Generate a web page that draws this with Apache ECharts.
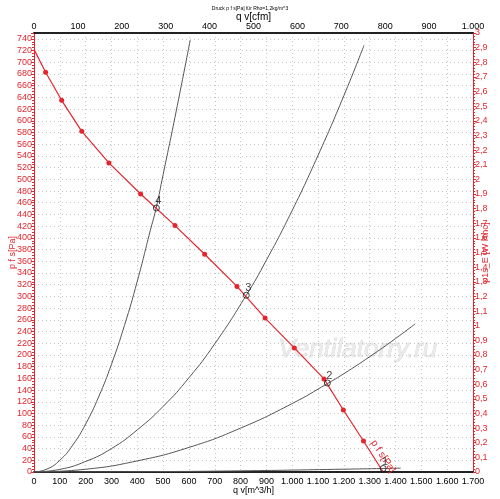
<!DOCTYPE html>
<html>
<head>
<meta charset="utf-8">
<title>Druck p f s</title>
<script src="https://cdn.jsdelivr.net/npm/echarts@6/dist/echarts.min.js"></script>
<style>
  html, body { margin: 0; padding: 0; background: #fff; }
  #main { width: 500px; height: 499px; }
</style>
</head>
<body>
<div id="main"></div>
<script type="text/javascript">
// Kennlinie p f s [Pa] über q v [m^3/h]
var fanQ = [0, 45, 107, 185, 290, 413, 546, 661, 786, 895, 1008, 1123, 1198, 1276, 1352];
var fanP = [722, 683, 635, 582, 528, 475, 421, 372, 317, 263, 212, 159, 106, 53, 0];

// Anlagenkennlinien 1..4
var sys1Q = [0, 400, 800, 1200, 1352, 1420];
var sys1P = [0, 0.5, 2, 4.8, 6, 6.6];
var sys2Q = [0, 200, 400, 600, 800, 1000, 1136, 1200, 1300, 1400, 1476];
var sys2P = [0, 4.7, 19, 42, 75, 117, 151, 168, 197, 228, 253];
var sys3Q = [0, 100, 200, 300, 400, 500, 600, 700, 822, 900, 1000, 1100, 1200, 1278];
var sys3P = [0, 4.5, 18, 40, 72, 112, 161, 219, 302, 362, 447, 541, 643, 729];
var sys4Q = [0, 50, 100, 150, 200, 250, 300, 350, 400, 450, 473, 500, 550, 605];
var sys4P = [0, 5, 20, 46, 82, 128, 184, 250, 326, 412, 451, 508, 615, 738];

// Betriebspunkte
var opNames = ['1', '2', '3', '4'];
var opQ = [1352, 1136, 822, 474];
var opP = [6, 152, 302, 451];

var red = '#e3262e';

function pairs(qs, ps) {
    return qs.map(function (q, i) { return [q, ps[i]]; });
}
function thousands(v) {
    if (v >= 1000) {
        return Math.floor(v / 1000) + '.' + String(v % 1000).padStart(3, '0');
    }
    return String(v);
}

var fanData = pairs(fanQ, fanP).map(function (d, i) {
    var item = { value: d };
    if (i === 0 || i === fanQ.length - 1) item.symbol = 'none';
    if (i === fanQ.length - 2) {
        item.label = {
            show: true, formatter: 'p f s[Pa]', position: 'right', distance: 7,
            rotate: -57, color: red, fontSize: 10, fontFamily: 'Liberation Sans'
        };
    }
    return item;
});

var sysLine = function (qs, ps) {
    return {
        type: 'line', data: pairs(qs, ps), smooth: true,
        symbol: 'none', lineStyle: { color: '#555', width: 1 }, silent: true, z: 2
    };
};

var myChart = echarts.init(document.getElementById('main'));
myChart.setOption({
    animation: false,
    textStyle: { fontFamily: 'Liberation Sans' },
    title: {
        text: 'Druck p f s[Pa] für Rho=1,2kg/m^3',
        left: 'center', top: 1,
        textStyle: { fontSize: 5, fontWeight: 'normal', color: '#000' }
    },
    grid: { left: 34, right: 27, top: 33, bottom: 27, outerBoundsMode: 'none', containLabel: false },
    graphic: [{
        type: 'text', left: 278, top: 336, z: 0, silent: true,
        style: {
            text: 'Ventilatorry.ru', fontSize: 26, fontStyle: 'italic',
            fontFamily: 'Liberation Sans', fill: '#ebebeb',
            stroke: '#cfcfcf', lineWidth: 0.6
        }
    }],
    xAxis: [{
        type: 'value', position: 'bottom', min: 0, max: 1700, interval: 100,
        name: 'q v[m^3/h]', nameLocation: 'middle', nameGap: 14, nameMoveOverlap: false,
        nameTextStyle: { color: '#000', fontSize: 9 },
        axisLine: { onZero: false, lineStyle: { color: '#222', width: 2 } },
        axisTick: { show: false },
        axisLabel: { color: '#000', fontSize: 9, margin: 5, formatter: thousands },
        splitLine: { show: true, lineStyle: { color: '#c4c4c4', type: [1, 3], width: 1 } }
    }, {
        type: 'value', position: 'top', min: 0, max: 1000, interval: 100,
        name: 'q v[cfm]', nameLocation: 'middle', nameGap: 11, nameMoveOverlap: false,
        nameTextStyle: { color: '#000', fontSize: 10 },
        axisLine: { onZero: false, lineStyle: { color: '#222', width: 2 } },
        axisTick: { show: false },
        axisLabel: { color: '#000', fontSize: 9, margin: 2, formatter: thousands },
        splitLine: { show: false }
    }],
    yAxis: [{
        type: 'value', position: 'left', min: 0, max: 750, interval: 20,
        name: 'p f s[Pa]', nameLocation: 'middle', nameGap: 17, nameMoveOverlap: false,
        nameTextStyle: { color: red, fontSize: 9 },
        axisLine: { show: true, onZero: false, lineStyle: { color: red, width: 1 } },
        axisTick: { show: true, length: 3, lineStyle: { color: red } },
        minorTick: { show: true, splitNumber: 4, length: 2, lineStyle: { color: red } },
        axisLabel: {
            color: red, fontSize: 9, margin: 2,
            formatter: function (v) { return v % 20 === 0 ? String(v) : ''; }
        },
        splitLine: { show: true, lineStyle: { color: '#c4c4c4', type: [1, 3], width: 1 } }
    }, {
        type: 'value', position: 'right', min: 0, max: 3, interval: 0.1,
        name: 'p1s_E [W Rho]', nameLocation: 'middle', nameGap: 8, nameRotate: 90,
        nameMoveOverlap: false,
        nameTextStyle: { color: red, fontSize: 9 },
        axisLine: { show: true, onZero: false, lineStyle: { color: red, width: 1 } },
        axisTick: { show: true, length: 3, lineStyle: { color: red } },
        minorTick: { show: true, splitNumber: 5, length: 2, lineStyle: { color: red } },
        axisLabel: {
            color: red, fontSize: 9, margin: 2,
            formatter: function (v) { return String(Math.round(v * 10) / 10).replace('.', ','); }
        },
        splitLine: { show: false }
    }],
    series: [
        sysLine(sys1Q, sys1P),
        sysLine(sys2Q, sys2P),
        sysLine(sys3Q, sys3P),
        sysLine(sys4Q, sys4P),
        {
            type: 'line', data: fanData, symbol: 'circle', symbolSize: 5,
            itemStyle: { color: red }, lineStyle: { color: red, width: 1.2 }, z: 3
        },
        {
            type: 'scatter', z: 4, symbol: 'circle', symbolSize: 6,
            itemStyle: { color: 'rgba(0,0,0,0)', borderColor: '#111', borderWidth: 1 },
            data: opNames.map(function (n, i) { return { name: n, value: [opQ[i], opP[i]] }; }),
            label: {
                show: true, formatter: '{b}', position: 'top', distance: 0,
                color: '#111', fontSize: 11, offset: [2, 2]
            }
        }
    ]
});
</script>
</body>
</html>
